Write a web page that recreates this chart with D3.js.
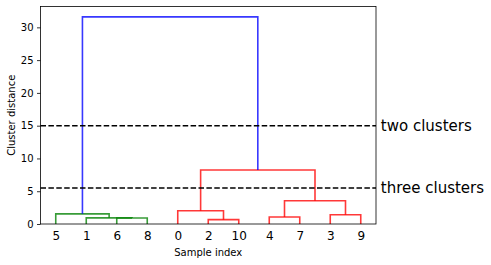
<!DOCTYPE html>
<html>
<head>
<meta charset="utf-8">
<script src="https://cdn.jsdelivr.net/npm/d3@7"></script>
<style>
  body { margin: 0; background: #fff; }
  text { font-family: "DejaVu Sans", sans-serif; fill: #000; }
</style>
</head>
<body>
<svg width="491" height="265"></svg>
<script>
// linkage rows: [left, right, distance]; ids < nSamples are samples, later ones are merges
const nSamples = 11;
const linkage = [
  [6, 8, 0.92],
  [1, 11, 0.94],
  [5, 12, 1.55],
  [2, 10, 0.66],
  [0, 14, 2.03],
  [4, 7, 1.07],
  [3, 9, 1.42],
  [16, 17, 3.55],
  [15, 18, 8.24],
  [13, 19, 31.6]
];
const linkColors = ["g", "g", "g", "r", "r", "r", "r", "r", "r", "b"];
const yTicks = [0, 5, 10, 15, 20, 25, 30];
const cutLines = [
  { y: 15, label: "two clusters" },
  { y: 5.5, label: "three clusters" }
];

const colorMap = { g: "#008000", r: "#ff0000", b: "#0000ff" };

var margin = { top: 6.5, left: 40.5, right: 376, bottom: 224 };

var svg = d3.select("svg");

// walk tree to get leaf order
var leaves = [];
function walk(id) {
  if (id < nSamples) { leaves.push(id); return; }
  var row = linkage[id - nSamples];
  walk(row[0]);
  walk(row[1]);
}
walk(nSamples + linkage.length - 1);

var x = d3.scaleLinear()
  .domain([0, leaves.length * 10])
  .range([margin.left, margin.right]);

var y = d3.scaleLinear()
  .domain([0, 31.6 * 1.05])
  .range([margin.bottom, margin.top]);

// positions of each node: [xcenter, height]
var pos = {};
leaves.forEach(function (leaf, i) { pos[leaf] = [5 + 10 * i, 0]; });
linkage.forEach(function (row, i) {
  var a = pos[row[0]], b = pos[row[1]];
  pos[nSamples + i] = [(a[0] + b[0]) / 2, row[2]];
});

var g = svg.append("g");
linkage.forEach(function (row, i) {
  var a = pos[row[0]], b = pos[row[1]], h = row[2];
  var pts = [[a[0], a[1]], [a[0], h], [b[0], h], [b[0], b[1]]];
  g.append("path")
    .attr("d", d3.line().x(function (d) { return x(d[0]); }).y(function (d) { return y(d[1]); })(pts))
    .attr("fill", "none")
    .attr("stroke", colorMap[linkColors[i]])
    .attr("stroke-opacity", 0.78)
    .attr("stroke-width", 1.6);
});

// cut lines + labels
cutLines.forEach(function (c) {
  svg.append("line")
    .attr("x1", margin.left).attr("x2", margin.right)
    .attr("y1", y(c.y)).attr("y2", y(c.y))
    .attr("stroke", "#000")
    .attr("stroke-width", 1.5)
    .attr("stroke-dasharray", "5.5,2.4");
  svg.append("text")
    .attr("x", margin.right + 4.8)
    .attr("y", y(c.y))
    .attr("dy", "0.35em")
    .style("font-size", "15px")
    .text(c.label);
});

// y axis
var yAxis = d3.axisLeft(y).tickValues(yTicks).tickSize(3.5).tickPadding(3.5);
var ya = svg.append("g")
  .attr("transform", "translate(" + margin.left + ",0)")
  .call(yAxis);
ya.select(".domain").remove();
ya.selectAll("line").attr("stroke", "#000").attr("stroke-width", 0.8);
ya.selectAll("text").style("font-size", "10px").attr("font-family", null);

// x tick labels (no tick marks)
var xa = svg.append("g")
  .attr("transform", "translate(0," + margin.bottom + ")")
  .call(d3.axisBottom(x)
    .tickValues(leaves.map(function (d, i) { return 5 + 10 * i; }))
    .tickFormat(function (d, i) { return leaves[i]; })
    .tickSize(0).tickPadding(7));
xa.select(".domain").remove();
xa.selectAll("text").style("font-size", "12px").attr("font-family", null);

// frame
svg.append("rect")
  .attr("x", margin.left).attr("y", margin.top)
  .attr("width", margin.right - margin.left)
  .attr("height", margin.bottom - margin.top)
  .attr("fill", "none")
  .attr("stroke", "#000")
  .attr("stroke-width", 0.8);

svg.append("text")
  .attr("transform", "translate(14.5," + (margin.top + margin.bottom) / 2 + ") rotate(-90)")
  .attr("text-anchor", "middle")
  .style("font-size", "10px")
  .text("Cluster distance");

svg.append("text")
  .attr("x", (margin.left + margin.right) / 2)
  .attr("y", 256)
  .attr("text-anchor", "middle")
  .style("font-size", "10px")
  .text("Sample index");
</script>
</body>
</html>
